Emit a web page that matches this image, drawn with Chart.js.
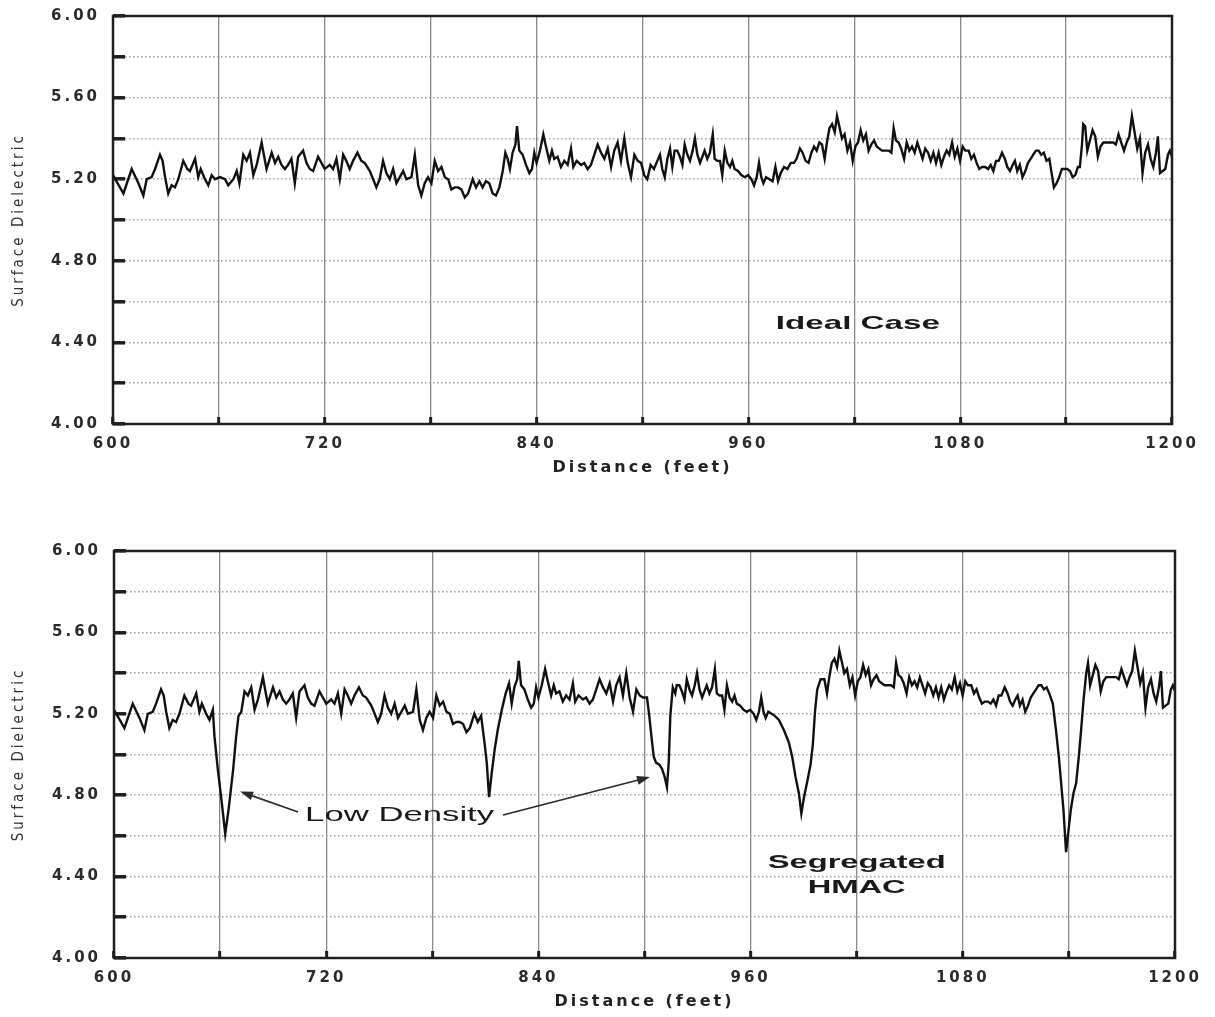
<!DOCTYPE html>
<html>
<head>
<meta charset="utf-8">
<title>Surface Dielectric</title>
<script src="https://cdn.jsdelivr.net/npm/chart.js@4.4.1/dist/chart.umd.min.js"></script>
<style>
  html, body { margin: 0; padding: 0; background: #fff; }
  body { width: 1215px; height: 1017px; position: relative; overflow: hidden; }
  .panel { position: absolute; left: 0; width: 1215px; }
  #topPanel { top: 0; height: 490px; }
  #bottomPanel { top: 535px; height: 482px; }
</style>
</head>
<body>
<div class="panel" id="topPanel"><canvas id="idealChart"></canvas></div>
<div class="panel" id="bottomPanel"><canvas id="segChart"></canvas></div>
<script>
// tick labels
var distanceTicks = [600, 720, 840, 960, 1080, 1200];
var dielectricTicks = [4.00, 4.40, 4.80, 5.20, 5.60, 6.00];

// top panel - ideal case
var idealFeet = [
  600.0, 605.9, 610.6, 614.4, 617.2, 619.1, 621.9, 623.8, 626.6, 628.1,
  629.5, 631.3, 633.2, 635.1, 637.0, 639.8, 642.1, 643.6, 646.5, 648.3,
  649.7, 652.1, 654.0, 655.9, 657.8, 660.6, 663.5, 665.3, 668.2, 670.1,
  671.6, 673.8, 675.7, 677.6, 679.5, 681.4, 684.2, 686.1, 687.0, 689.9,
  691.8, 693.6, 695.5, 697.4, 699.2, 701.1, 703.0, 704.9, 707.7, 709.6,
  711.5, 713.4, 716.2, 718.1, 720.0, 722.8, 724.7, 726.6, 728.5, 730.4,
  732.2, 734.1, 736.0, 738.5, 740.7, 742.6, 745.5, 747.4, 749.2, 751.1,
  753.0, 754.9, 756.8, 758.7, 760.6, 762.5, 764.4, 766.2, 769.1, 771.0,
  772.9, 774.7, 776.6, 778.5, 780.4, 782.3, 784.2, 786.1, 788.0, 789.9,
  791.7, 793.6, 795.5, 797.4, 799.3, 801.2, 803.8, 805.7, 807.6, 809.4,
  811.3, 813.2, 815.1, 817.0, 818.9, 820.8, 822.3, 823.6, 824.9, 826.4,
  828.0, 828.9, 830.2, 832.1, 834.0, 835.9, 837.4, 838.7, 840.0, 841.9,
  843.8, 845.3, 847.2, 848.7, 850.0, 851.9, 853.8, 855.7, 857.6, 859.5,
  860.8, 862.7, 865.2, 867.0, 868.9, 870.8, 872.7, 874.6, 876.5, 878.4,
  880.3, 882.2, 884.0, 885.9, 887.8, 889.7, 891.6, 893.5, 895.4, 897.3,
  899.2, 901.0, 902.7, 904.6, 906.5, 908.4, 909.9, 911.2, 912.6, 914.1,
  915.6, 916.9, 918.2, 919.7, 921.2, 922.6, 923.9, 925.4, 926.9, 928.4,
  929.7, 931.1, 932.6, 933.9, 935.2, 936.7, 938.2, 939.8, 940.9, 942.4,
  943.9, 945.2, 946.6, 948.1, 949.6, 950.9, 952.2, 954.1, 956.0, 957.9,
  959.8, 961.7, 963.2, 964.7, 966.0, 967.3, 968.5, 970.0, 971.9, 973.7,
  975.3, 976.8, 978.3, 980.2, 982.1, 984.0, 985.8, 987.3, 989.2, 990.7,
  992.4, 994.1, 995.7, 997.2, 998.7, 1000.2, 1001.7, 1003.2, 1004.5, 1005.9,
  1007.4, 1008.9, 1010.2, 1011.5, 1013.0, 1014.5, 1016.1, 1017.6, 1019.1, 1020.6,
  1022.1, 1023.6, 1025.1, 1026.6, 1028.1, 1029.6, 1031.2, 1032.7, 1034.2, 1035.7,
  1037.6, 1039.5, 1041.0, 1042.3, 1043.6, 1045.1, 1046.6, 1048.2, 1049.7, 1051.2,
  1052.7, 1054.2, 1055.7, 1057.2, 1058.7, 1060.2, 1061.8, 1063.3, 1064.8, 1066.3,
  1067.8, 1069.3, 1070.8, 1072.3, 1073.8, 1075.4, 1076.9, 1078.4, 1079.9, 1081.4,
  1082.9, 1084.8, 1086.3, 1087.8, 1089.3, 1090.8, 1092.4, 1094.2, 1095.8, 1097.3,
  1098.8, 1100.3, 1101.8, 1103.7, 1105.3, 1106.7, 1108.2, 1109.7, 1111.0, 1112.3,
  1113.8, 1115.3, 1116.9, 1118.4, 1119.9, 1121.4, 1122.9, 1124.4, 1125.9, 1127.4,
  1128.9, 1130.5, 1131.8, 1133.1, 1134.6, 1136.1, 1137.6, 1139.1, 1140.6, 1142.2,
  1143.7, 1145.2, 1146.7, 1147.8, 1149.0, 1149.7, 1150.8, 1152.0, 1153.5, 1155.0,
  1156.5, 1158.0, 1159.5, 1161.1, 1162.9, 1164.8, 1166.7, 1168.2, 1169.7, 1171.2,
  1172.8, 1174.3, 1175.8, 1177.3, 1178.8, 1180.3, 1181.8, 1183.3, 1184.8, 1186.4,
  1187.9, 1189.4, 1190.9, 1192.0, 1193.2, 1194.7, 1196.2, 1197.7, 1198.8, 1200.0
];
var idealDielectric = [
  5.22, 5.13, 5.25, 5.18, 5.12, 5.20, 5.21, 5.25, 5.32, 5.29,
  5.21, 5.13, 5.17, 5.16, 5.20, 5.29, 5.25, 5.24, 5.30, 5.21,
  5.25, 5.20, 5.17, 5.22, 5.20, 5.21, 5.20, 5.17, 5.20, 5.24,
  5.18, 5.32, 5.29, 5.33, 5.22, 5.27, 5.38, 5.29, 5.25, 5.33,
  5.28, 5.31, 5.27, 5.25, 5.27, 5.30, 5.18, 5.31, 5.34, 5.28,
  5.25, 5.24, 5.31, 5.28, 5.25, 5.27, 5.25, 5.30, 5.20, 5.32,
  5.29, 5.25, 5.29, 5.33, 5.29, 5.28, 5.24, 5.20, 5.16, 5.20,
  5.29, 5.23, 5.20, 5.25, 5.18, 5.21, 5.24, 5.20, 5.21, 5.32,
  5.17, 5.12, 5.18, 5.21, 5.18, 5.29, 5.24, 5.26, 5.21, 5.20,
  5.15, 5.16, 5.16, 5.15, 5.11, 5.13, 5.20, 5.16, 5.19, 5.16,
  5.19, 5.18, 5.13, 5.12, 5.16, 5.24, 5.33, 5.30, 5.25, 5.33,
  5.37, 5.46, 5.34, 5.32, 5.27, 5.23, 5.25, 5.33, 5.28, 5.34,
  5.42, 5.36, 5.29, 5.34, 5.30, 5.31, 5.26, 5.29, 5.27, 5.35,
  5.26, 5.29, 5.27, 5.28, 5.25, 5.27, 5.32, 5.37, 5.33, 5.30,
  5.35, 5.26, 5.34, 5.38, 5.29, 5.40, 5.28, 5.21, 5.32, 5.29,
  5.28, 5.22, 5.20, 5.27, 5.25, 5.29, 5.32, 5.25, 5.21, 5.30,
  5.35, 5.26, 5.34, 5.34, 5.31, 5.27, 5.37, 5.32, 5.29, 5.34,
  5.40, 5.32, 5.28, 5.31, 5.34, 5.30, 5.33, 5.42, 5.30, 5.29,
  5.29, 5.22, 5.34, 5.28, 5.26, 5.29, 5.25, 5.24, 5.22, 5.21,
  5.22, 5.20, 5.17, 5.21, 5.28, 5.21, 5.18, 5.21, 5.20, 5.19,
  5.26, 5.19, 5.23, 5.26, 5.25, 5.28, 5.28, 5.30, 5.35, 5.33,
  5.29, 5.28, 5.33, 5.36, 5.34, 5.38, 5.37, 5.30, 5.38, 5.45,
  5.47, 5.43, 5.51, 5.46, 5.40, 5.42, 5.34, 5.38, 5.29, 5.36,
  5.38, 5.44, 5.39, 5.42, 5.34, 5.37, 5.39, 5.36, 5.35, 5.34,
  5.34, 5.34, 5.33, 5.45, 5.39, 5.38, 5.35, 5.30, 5.38, 5.34,
  5.36, 5.33, 5.38, 5.34, 5.30, 5.35, 5.33, 5.29, 5.33, 5.28,
  5.33, 5.27, 5.31, 5.34, 5.32, 5.38, 5.31, 5.35, 5.29, 5.36,
  5.34, 5.34, 5.30, 5.32, 5.28, 5.25, 5.26, 5.26, 5.25, 5.27,
  5.24, 5.29, 5.29, 5.33, 5.30, 5.26, 5.24, 5.27, 5.29, 5.24,
  5.27, 5.21, 5.24, 5.28, 5.30, 5.32, 5.34, 5.34, 5.32, 5.33,
  5.29, 5.30, 5.23, 5.16, 5.18, 5.21, 5.25, 5.25, 5.25, 5.24,
  5.21, 5.22, 5.26, 5.26, 5.37, 5.47, 5.46, 5.34, 5.39, 5.44,
  5.41, 5.31, 5.36, 5.38, 5.38, 5.38, 5.38, 5.37, 5.42, 5.38,
  5.34, 5.38, 5.41, 5.51, 5.43, 5.35, 5.40, 5.23, 5.33, 5.37,
  5.30, 5.26, 5.33, 5.41, 5.23, 5.24, 5.25, 5.32, 5.34, 5.31
];

// bottom panel - segregated HMAC
var segFeet = [
  600.0, 605.9, 610.6, 614.4, 617.2, 619.1, 621.9, 623.8, 626.6, 628.1,
  629.5, 631.3, 633.2, 635.1, 637.0, 639.8, 642.1, 643.6, 646.5, 648.3,
  649.7, 652.1, 654.0, 655.9, 656.8, 658.8, 661.0, 662.9, 664.8, 667.3,
  669.1, 670.4, 672.0, 673.8, 675.7, 677.6, 679.5, 681.4, 684.2, 686.1,
  687.0, 689.9, 691.8, 693.6, 695.5, 697.4, 699.2, 701.1, 703.0, 704.9,
  707.7, 709.6, 711.5, 713.4, 716.2, 718.1, 720.0, 722.8, 724.7, 726.6,
  728.5, 730.4, 732.2, 734.1, 736.0, 738.5, 740.7, 742.6, 745.5, 747.4,
  749.2, 751.1, 753.0, 754.9, 756.8, 758.7, 760.6, 762.5, 764.4, 766.2,
  769.1, 771.0, 772.9, 774.7, 776.6, 778.5, 780.4, 782.3, 784.2, 786.1,
  788.0, 789.9, 791.7, 793.6, 795.5, 797.4, 799.3, 801.2, 803.8, 805.7,
  807.6, 809.5, 810.8, 812.1, 813.6, 815.2, 817.0, 819.3, 821.5, 823.4,
  824.9, 826.4, 828.0, 828.9, 830.2, 832.1, 834.0, 835.9, 837.4, 838.7,
  840.0, 841.9, 843.8, 845.3, 847.2, 848.7, 850.0, 851.9, 853.8, 855.7,
  857.6, 859.5, 860.8, 862.7, 865.2, 867.0, 868.9, 870.8, 872.7, 874.6,
  876.5, 878.4, 880.3, 882.2, 884.0, 885.9, 887.8, 889.7, 891.6, 893.5,
  895.4, 897.3, 899.2, 901.4, 902.7, 903.9, 905.2, 906.5, 908.4, 909.9,
  911.4, 912.7, 913.7, 914.6, 916.0, 917.4, 918.2, 919.7, 921.2, 922.6,
  923.9, 925.4, 926.9, 928.4, 929.7, 931.1, 932.6, 933.9, 935.2, 936.7,
  938.2, 939.8, 940.9, 942.4, 943.9, 945.2, 946.6, 948.1, 949.6, 950.9,
  952.2, 954.1, 956.0, 957.9, 959.8, 961.7, 963.2, 964.7, 966.0, 967.3,
  968.5, 970.0, 971.9, 973.7, 976.0, 978.8, 981.6, 983.5, 985.4, 987.3,
  988.7, 990.2, 992.1, 993.9, 995.2, 996.5, 997.7, 999.6, 1001.7, 1003.2,
  1004.5, 1005.9, 1007.4, 1008.9, 1010.2, 1011.5, 1013.0, 1014.5, 1016.1, 1017.6,
  1019.1, 1020.6, 1022.1, 1023.6, 1025.1, 1026.6, 1028.1, 1029.6, 1031.2, 1032.7,
  1034.2, 1035.7, 1037.6, 1039.5, 1041.0, 1042.3, 1043.6, 1045.1, 1046.6, 1048.2,
  1049.7, 1051.2, 1052.7, 1054.2, 1055.7, 1057.2, 1058.7, 1060.2, 1061.8, 1063.3,
  1064.8, 1066.3, 1067.8, 1069.3, 1070.8, 1072.3, 1073.8, 1075.4, 1076.9, 1078.4,
  1079.9, 1081.4, 1082.9, 1084.8, 1086.3, 1087.8, 1089.3, 1090.8, 1092.4, 1094.2,
  1095.8, 1097.3, 1098.8, 1100.3, 1101.8, 1103.7, 1105.3, 1106.7, 1108.2, 1109.7,
  1111.0, 1112.3, 1113.8, 1115.3, 1116.9, 1118.4, 1119.9, 1121.4, 1122.9, 1124.4,
  1125.9, 1127.4, 1128.9, 1130.9, 1132.7, 1134.3, 1135.6, 1136.9, 1138.4, 1139.8,
  1141.1, 1142.6, 1144.1, 1145.6, 1146.9, 1148.3, 1149.8, 1150.8, 1152.0, 1153.5,
  1155.0, 1156.5, 1158.0, 1159.5, 1161.1, 1162.9, 1164.8, 1166.7, 1168.2, 1169.7,
  1171.2, 1172.8, 1174.3, 1175.8, 1177.3, 1178.8, 1180.3, 1181.8, 1183.3, 1184.8,
  1186.4, 1187.9, 1189.4, 1190.9, 1192.0, 1193.2, 1194.7, 1196.2, 1197.7, 1198.8,
  1200.0
];
var segDielectric = [
  5.22, 5.13, 5.25, 5.18, 5.12, 5.20, 5.21, 5.25, 5.32, 5.29,
  5.21, 5.13, 5.17, 5.16, 5.20, 5.29, 5.25, 5.24, 5.30, 5.21,
  5.25, 5.20, 5.17, 5.22, 5.09, 4.92, 4.76, 4.61, 4.73, 4.92,
  5.09, 5.19, 5.21, 5.31, 5.29, 5.33, 5.22, 5.27, 5.38, 5.29,
  5.25, 5.33, 5.28, 5.31, 5.27, 5.25, 5.27, 5.30, 5.18, 5.31,
  5.34, 5.28, 5.25, 5.24, 5.31, 5.28, 5.25, 5.27, 5.25, 5.30,
  5.20, 5.32, 5.29, 5.25, 5.29, 5.33, 5.29, 5.28, 5.24, 5.20,
  5.16, 5.20, 5.29, 5.23, 5.20, 5.25, 5.18, 5.21, 5.24, 5.20,
  5.21, 5.32, 5.17, 5.12, 5.18, 5.21, 5.18, 5.29, 5.24, 5.26,
  5.21, 5.20, 5.15, 5.16, 5.16, 5.15, 5.11, 5.13, 5.20, 5.16,
  5.19, 5.06, 4.96, 4.79, 4.91, 5.02, 5.12, 5.22, 5.30, 5.35,
  5.25, 5.33, 5.37, 5.46, 5.34, 5.32, 5.27, 5.23, 5.25, 5.33,
  5.28, 5.34, 5.42, 5.36, 5.29, 5.34, 5.30, 5.31, 5.26, 5.29,
  5.27, 5.35, 5.26, 5.29, 5.27, 5.28, 5.25, 5.27, 5.32, 5.37,
  5.33, 5.30, 5.35, 5.26, 5.34, 5.38, 5.29, 5.40, 5.28, 5.21,
  5.32, 5.29, 5.28, 5.28, 5.19, 5.09, 4.99, 4.96, 4.95, 4.93,
  4.89, 4.84, 4.96, 5.19, 5.33, 5.30, 5.34, 5.34, 5.31, 5.27,
  5.37, 5.32, 5.29, 5.34, 5.40, 5.32, 5.28, 5.31, 5.34, 5.30,
  5.33, 5.42, 5.30, 5.29, 5.29, 5.22, 5.34, 5.28, 5.26, 5.29,
  5.25, 5.24, 5.22, 5.21, 5.22, 5.20, 5.17, 5.21, 5.28, 5.21,
  5.18, 5.21, 5.20, 5.19, 5.17, 5.12, 5.06, 4.99, 4.89, 4.81,
  4.71, 4.79, 4.87, 4.95, 5.05, 5.22, 5.32, 5.37, 5.37, 5.30,
  5.38, 5.45, 5.47, 5.43, 5.51, 5.46, 5.40, 5.42, 5.34, 5.38,
  5.29, 5.36, 5.38, 5.44, 5.39, 5.42, 5.34, 5.37, 5.39, 5.36,
  5.35, 5.34, 5.34, 5.34, 5.33, 5.45, 5.39, 5.38, 5.35, 5.30,
  5.38, 5.34, 5.36, 5.33, 5.38, 5.34, 5.30, 5.35, 5.33, 5.29,
  5.33, 5.28, 5.33, 5.27, 5.31, 5.34, 5.32, 5.38, 5.31, 5.35,
  5.29, 5.36, 5.34, 5.34, 5.30, 5.32, 5.28, 5.25, 5.26, 5.26,
  5.25, 5.27, 5.24, 5.29, 5.29, 5.33, 5.30, 5.26, 5.24, 5.27,
  5.29, 5.24, 5.27, 5.21, 5.24, 5.28, 5.30, 5.32, 5.34, 5.34,
  5.32, 5.33, 5.30, 5.25, 5.12, 4.99, 4.86, 4.73, 4.52, 4.63,
  4.73, 4.81, 4.86, 4.99, 5.12, 5.27, 5.40, 5.45, 5.34, 5.39,
  5.44, 5.41, 5.31, 5.36, 5.38, 5.38, 5.38, 5.38, 5.37, 5.42,
  5.38, 5.34, 5.38, 5.41, 5.51, 5.43, 5.35, 5.40, 5.23, 5.33,
  5.37, 5.30, 5.26, 5.33, 5.41, 5.23, 5.24, 5.25, 5.32, 5.34,
  5.31
];

var tickFont = { family: '"DejaVu Sans", sans-serif', weight: 'bold', size: 15 };
var xTitleFont = { family: '"DejaVu Sans", sans-serif', weight: 'bold', size: 16 };
var yTitleFont = { family: '"Liberation Sans Narrow", "DejaVu Sans Condensed", "Liberation Sans", sans-serif', size: 15 };
var noteFont = '"Liberation Sans", Arial, sans-serif';

function toPoints(xs, ys) {
  return xs.map(function(x, i) { return { x: x, y: ys[i] }; });
}

// wide lettering like the scanned original
var spacingPlugin = {
  id: 'spacing',
  beforeDraw: function(chart) { chart.ctx.letterSpacing = '3px'; }
};

var framePlugin = {
  id: 'frame',
  afterDatasetsDraw: function(chart) {
    var ctx = chart.ctx, a = chart.chartArea;
    ctx.save();
    ctx.lineWidth = 2.5;
    ctx.strokeStyle = '#1f1f1f';
    ctx.strokeRect(a.left, a.top, a.right - a.left, a.bottom - a.top);
    ctx.restore();
  }
};

function drawStretched(ctx, text, x, y, font, width) {
  ctx.save();
  ctx.letterSpacing = '0px';
  ctx.font = font;
  ctx.textAlign = 'center';
  ctx.textBaseline = 'middle';
  var w = ctx.measureText(text).width;
  ctx.translate(x, y);
  ctx.scale(width / w, 1);
  ctx.fillStyle = '#1a1a1a';
  ctx.fillText(text, 0, 0);
  ctx.restore();
}

function drawArrow(ctx, x1, y1, x2, y2) {
  var ang = Math.atan2(y2 - y1, x2 - x1);
  ctx.save();
  ctx.strokeStyle = '#2a2a2a';
  ctx.fillStyle = '#2a2a2a';
  ctx.lineWidth = 1.6;
  ctx.beginPath();
  ctx.moveTo(x1, y1);
  ctx.lineTo(x2 - 10 * Math.cos(ang), y2 - 10 * Math.sin(ang));
  ctx.stroke();
  ctx.translate(x2, y2);
  ctx.rotate(ang);
  ctx.beginPath();
  ctx.moveTo(0, 0);
  ctx.lineTo(-13, -4.5);
  ctx.lineTo(-13, 4.5);
  ctx.closePath();
  ctx.fill();
  ctx.restore();
}

var notesPlugin = {
  id: 'notes',
  afterDraw: function(chart, args, opts) {
    var ctx = chart.ctx, x = chart.scales.x, y = chart.scales.y;
    (opts.arrows || []).forEach(function(a) {
      drawArrow(ctx, x.getPixelForValue(a.from[0]), y.getPixelForValue(a.from[1]),
                x.getPixelForValue(a.to[0]), y.getPixelForValue(a.to[1]));
    });
    (opts.labels || []).forEach(function(l) {
      drawStretched(ctx, l.text, x.getPixelForValue(l.at[0]), y.getPixelForValue(l.at[1]), l.font, l.width);
    });
  }
};

function makeChart(id, feet, values, lay, notes) {
  return new Chart(document.getElementById(id), {
    type: 'line',
    data: {
      datasets: [{
        data: toPoints(feet, values),
        borderColor: '#111',
        borderWidth: 2.4,
        pointRadius: 0,
        tension: 0,
        fill: false
      }]
    },
    options: {
      responsive: true,
      maintainAspectRatio: false,
      animation: false,
      layout: { padding: { top: 16, right: lay.padRight, left: 0, bottom: 0 } },
      plugins: {
        legend: { display: false },
        tooltip: { enabled: false },
        notes: notes
      },
      scales: {
        x: {
          type: 'linear',
          min: 600,
          max: 1200,
          afterFit: function(s) { s.height = lay.xHeight; },
          ticks: {
            stepSize: 60,
            autoSkip: false,
            maxRotation: 0,
            padding: 18,
            color: '#2b2b2b',
            font: tickFont,
            callback: function(v) { return distanceTicks.indexOf(v) >= 0 ? String(v) : ''; }
          },
          grid: { color: '#8a8a8a', lineWidth: 1.3, tickLength: -7, tickWidth: 3, tickColor: '#1e1e1e' },
          border: { display: false },
          title: {
            display: true,
            text: 'Distance (feet)',
            color: '#222',
            font: xTitleFont,
            padding: { top: 0, bottom: lay.xTitlePad }
          }
        },
        y: {
          min: 4,
          max: 6,
          afterFit: function(s) {
            s.width = lay.yWidth;
            s.paddingTop = 0;
          },
          ticks: {
            stepSize: 0.2,
            autoSkip: false,
            padding: 25,
            color: '#2b2b2b',
            font: tickFont,
            callback: function(v) {
              return dielectricTicks.some(function(t) { return Math.abs(t - v) < 1e-6; }) ? v.toFixed(2) : '';
            }
          },
          grid: { color: '#a0a0a0', lineWidth: 1.6, tickLength: -12, tickWidth: 3.5, tickColor: '#1e1e1e' },
          border: { display: false, dash: [1.5, 2.5] },
          title: {
            display: true,
            text: 'Surface Dielectric',
            color: '#333',
            font: yTitleFont,
            padding: { top: 10, bottom: 0 }
          }
        }
      }
    },
    plugins: [spacingPlugin, framePlugin, notesPlugin]
  });
}

makeChart('idealChart', idealFeet, idealDielectric,
  { padRight: 43, xHeight: 66, yWidth: 113, xTitlePad: 13 },
  {
    labels: [
      { text: 'Ideal Case', at: [1022, 4.49], width: 164, font: 'bold 19px ' + noteFont }
    ],
    arrows: []
  });

makeChart('segChart', segFeet, segDielectric,
  { padRight: 40, xHeight: 59, yWidth: 114, xTitlePad: 6 },
  {
    labels: [
      { text: 'Low Density', at: [761.5, 4.70], width: 189, font: '20px ' + noteFont },
      { text: 'Segregated', at: [1020, 4.467], width: 178, font: 'bold 19px ' + noteFont },
      { text: 'HMAC', at: [1020, 4.344], width: 98, font: 'bold 19px ' + noteFont }
    ],
    arrows: [
      { from: [704.1, 4.717], to: [671.3, 4.818] },
      { from: [820.0, 4.703], to: [903.1, 4.889] }
    ]
  });
</script>
</body>
</html>
